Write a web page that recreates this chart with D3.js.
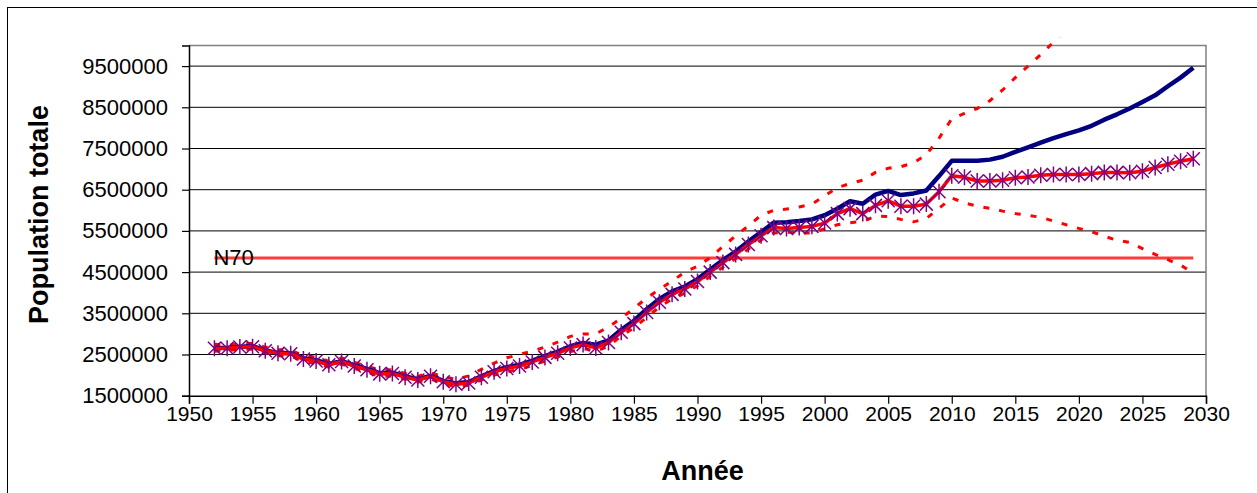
<!DOCTYPE html>
<html>
<head>
<meta charset="utf-8">
<script src="https://cdn.jsdelivr.net/npm/d3@7"></script>
<style>
  body { margin: 0; background: #fff; }
  text { font-family: "Liberation Sans", Arial, sans-serif; }
</style>
</head>
<body>
<svg id="chart" width="1257" height="493"></svg>
<script>
// years 1952 -> 2029
var years = d3.range(1952, 2030);

// red line with purple star markers
var central = [
  2650000, 2650000, 2680000, 2690000, 2590000, 2530000, 2520000, 2390000, 2340000, 2250000,
  2330000, 2220000, 2130000, 2030000, 2040000, 1950000, 1880000, 1970000, 1840000, 1780000,
  1810000, 1950000, 2080000, 2160000, 2220000, 2320000, 2430000, 2530000, 2660000, 2740000,
  2660000, 2790000, 3040000, 3250000, 3520000, 3770000, 3960000, 4090000, 4270000, 4500000,
  4730000, 4930000, 5170000, 5380000, 5580000, 5560000, 5580000, 5610000, 5690000, 5920000,
  6040000, 5920000, 6120000, 6230000, 6100000, 6100000, 6150000, 6450000, 6840000, 6800000,
  6710000, 6710000, 6730000, 6790000, 6810000, 6850000, 6870000, 6870000, 6870000, 6890000,
  6920000, 6920000, 6910000, 6950000, 7040000, 7120000, 7190000, 7250000
];

// navy thick line
var projection = [
  2660000, 2660000, 2690000, 2700000, 2600000, 2540000, 2530000, 2410000, 2360000, 2270000,
  2340000, 2240000, 2150000, 2050000, 2060000, 1970000, 1900000, 1980000, 1860000, 1800000,
  1830000, 1970000, 2100000, 2190000, 2250000, 2350000, 2460000, 2570000, 2700000, 2780000,
  2740000, 2840000, 3100000, 3320000, 3600000, 3850000, 4030000, 4150000, 4330000, 4560000,
  4790000, 5000000, 5240000, 5470000, 5700000, 5710000, 5740000, 5780000, 5880000, 6040000,
  6220000, 6160000, 6380000, 6470000, 6370000, 6410000, 6480000, 6830000, 7200000, 7200000,
  7200000, 7230000, 7300000, 7420000, 7530000, 7640000, 7750000, 7850000, 7940000, 8050000,
  8200000, 8330000, 8470000, 8630000, 8790000, 9010000, 9220000, 9460000
];

// red dashed, upper bound (goes off the top after 2018)
var upper = [
  2750000, 2720000, 2760000, 2770000, 2680000, 2620000, 2600000, 2480000, 2430000, 2340000,
  2420000, 2310000, 2220000, 2120000, 2130000, 2040000, 1970000, 2060000, 1960000, 1900000,
  1980000, 2140000, 2290000, 2420000, 2500000, 2580000, 2680000, 2800000, 2940000, 3000000,
  3000000, 3170000, 3380000, 3620000, 3870000, 4080000, 4280000, 4500000, 4640000, 4850000,
  5120000, 5380000, 5620000, 5880000, 6000000, 6030000, 6080000, 6150000, 6350000, 6550000,
  6650000, 6730000, 6920000, 7020000, 7060000, 7150000, 7350000, 7750000, 8220000, 8350000,
  8470000, 8660000, 8920000, 9220000, 9500000, 9780000, 10080000, 10400000
];

// red dashed, lower bound
var lower = [
  2580000, 2600000, 2620000, 2630000, 2540000, 2470000, 2460000, 2330000, 2280000, 2190000,
  2270000, 2160000, 2070000, 1970000, 1980000, 1900000, 1830000, 1910000, 1780000, 1720000,
  1750000, 1880000, 2000000, 2080000, 2140000, 2230000, 2340000, 2440000, 2570000, 2650000,
  2580000, 2700000, 2950000, 3150000, 3400000, 3650000, 3850000, 3990000, 4170000, 4400000,
  4620000, 4830000, 5060000, 5280000, 5450000, 5470000, 5450000, 5450000, 5550000, 5650000,
  5700000, 5730000, 5860000, 5850000, 5780000, 5720000, 5800000, 6050000, 6300000, 6180000,
  6100000, 6050000, 5980000, 5920000, 5880000, 5830000, 5740000, 5650000, 5560000, 5480000,
  5370000, 5270000, 5220000, 5070000, 4930000, 4800000, 4670000, 4480000
];

var n70Value = 4840000;
var n70Label = "N70";

var yTicks = [1500000, 2500000, 3500000, 4500000, 5500000, 6500000, 7500000, 8500000, 9500000];
var xTicks = [1950, 1955, 1960, 1965, 1970, 1975, 1980, 1985, 1990, 1995, 2000, 2005, 2010, 2015, 2020, 2025, 2030];

var xTitle = "Année";
var yTitle = "Population totale";

var width = 1257;
var height = 493;
var plot = { left: 189, right: 1206, top: 45.5, bottom: 395.7 };

var svg = d3.select("#chart");

// outer chart frame (runs off the right and bottom edges)
svg.append("rect")
  .attr("x", 7.5)
  .attr("y", 7.5)
  .attr("width", width)
  .attr("height", height)
  .style("fill", "#fff")
  .style("stroke", "#000")
  .style("stroke-width", 1);

var x = d3.scaleLinear().domain([1950, 2030]).range([plot.left, plot.right]);
var y = d3.scaleLinear().domain([1500000, 10000000]).range([plot.bottom, plot.top]);

// gridlines
svg.append("g")
  .selectAll("line")
  .data(yTicks.slice(1))
  .enter()
  .append("line")
  .attr("x1", plot.left)
  .attr("x2", plot.right)
  .attr("y1", function(d) { return y(d); })
  .attr("y2", function(d) { return y(d); })
  .style("stroke", "#000")
  .style("stroke-width", 1);

// top and right border of plot area
svg.append("path")
  .attr("d", "M" + plot.left + "," + plot.top + "H" + plot.right + "V" + plot.bottom)
  .style("fill", "none")
  .style("stroke", "#808080")
  .style("stroke-width", 1.5);

var yAxis = svg.append("g")
  .attr("transform", "translate(" + plot.left + ",0)")
  .call(d3.axisLeft(y).tickValues(yTicks).tickSize(7).tickPadding(14).tickFormat(d3.format("d")));

var xAxis = svg.append("g")
  .attr("transform", "translate(0," + plot.bottom + ")")
  .call(d3.axisBottom(x).tickValues(xTicks).tickSize(8).tickPadding(2).tickFormat(d3.format("d")));

[yAxis, xAxis].forEach(function(axis) {
  axis.select(".domain").style("stroke", "#000").style("stroke-width", 1.5);
  axis.selectAll(".tick line").style("stroke", "#000").style("stroke-width", 1.2);
  axis.selectAll("text")
    .style("font-family", "'Liberation Sans', Arial, sans-serif")
    .style("fill", "#000");
});
yAxis.selectAll("text").style("font-size", "22px");
xAxis.selectAll("text").style("font-size", "21px");

// axis titles
svg.append("text")
  .attr("transform", "translate(48," + ((plot.top + plot.bottom) / 2 - 6) + ") rotate(-90)")
  .attr("text-anchor", "middle")
  .style("font-size", "27px")
  .style("font-weight", "bold")
  .text(yTitle);

svg.append("text")
  .attr("x", (plot.left + plot.right) / 2 + 5)
  .attr("y", 480)
  .attr("text-anchor", "middle")
  .style("font-size", "27px")
  .style("font-weight", "bold")
  .text(xTitle);

function series(values) {
  return values.map(function(v, i) { return { year: years[i], value: v }; });
}

var line = d3.line()
  .x(function(d) { return x(d.year); })
  .y(function(d) { return y(d.value); });

// upper dashed is allowed a few pixels above the plot, then clipped
svg.append("clipPath")
  .attr("id", "plotClip")
  .append("rect")
  .attr("x", plot.left)
  .attr("y", plot.top - 8)
  .attr("width", plot.right - plot.left)
  .attr("height", plot.bottom - plot.top + 8);

var lines = svg.append("g").attr("clip-path", "url(#plotClip)");

// N70 reference line
lines.append("line")
  .attr("x1", x(years[0]))
  .attr("x2", x(years[years.length - 1]))
  .attr("y1", y(n70Value))
  .attr("y2", y(n70Value))
  .style("stroke", "#ff3b3b")
  .style("stroke-width", 3);

[upper, lower].forEach(function(values) {
  lines.append("path")
    .datum(series(values))
    .attr("d", line)
    .style("fill", "none")
    .style("stroke", "#ff0000")
    .style("stroke-width", 3)
    .style("stroke-dasharray", "6,10");
});

lines.append("path")
  .datum(series(projection))
  .attr("d", line)
  .style("fill", "none")
  .style("stroke", "#000080")
  .style("stroke-width", 4.5)
  .style("stroke-linejoin", "round");

lines.append("path")
  .datum(series(central))
  .attr("d", line)
  .style("fill", "none")
  .style("stroke", "#ff0000")
  .style("stroke-width", 3.5)
  .style("stroke-linejoin", "round");

// star markers: X plus a vertical bar
var s = 6.5;
lines.append("g")
  .selectAll("path")
  .data(series(central))
  .enter()
  .append("path")
  .attr("transform", function(d) { return "translate(" + x(d.year) + "," + y(d.value) + ")"; })
  .attr("d", "M" + (-s) + "," + (-s) + "L" + s + "," + s + "M" + (-s) + "," + s + "L" + s + "," + (-s) + "M0," + (-s - 1.5) + "L0," + (s + 1.5))
  .style("fill", "none")
  .style("stroke", "#800080")
  .style("stroke-width", 1.5);

svg.append("text")
  .attr("x", x(years[0]) - 1)
  .attr("y", y(n70Value) + 7)
  .style("font-size", "22px")
  .style("fill", "#000")
  .text(n70Label);
</script>
</body>
</html>
